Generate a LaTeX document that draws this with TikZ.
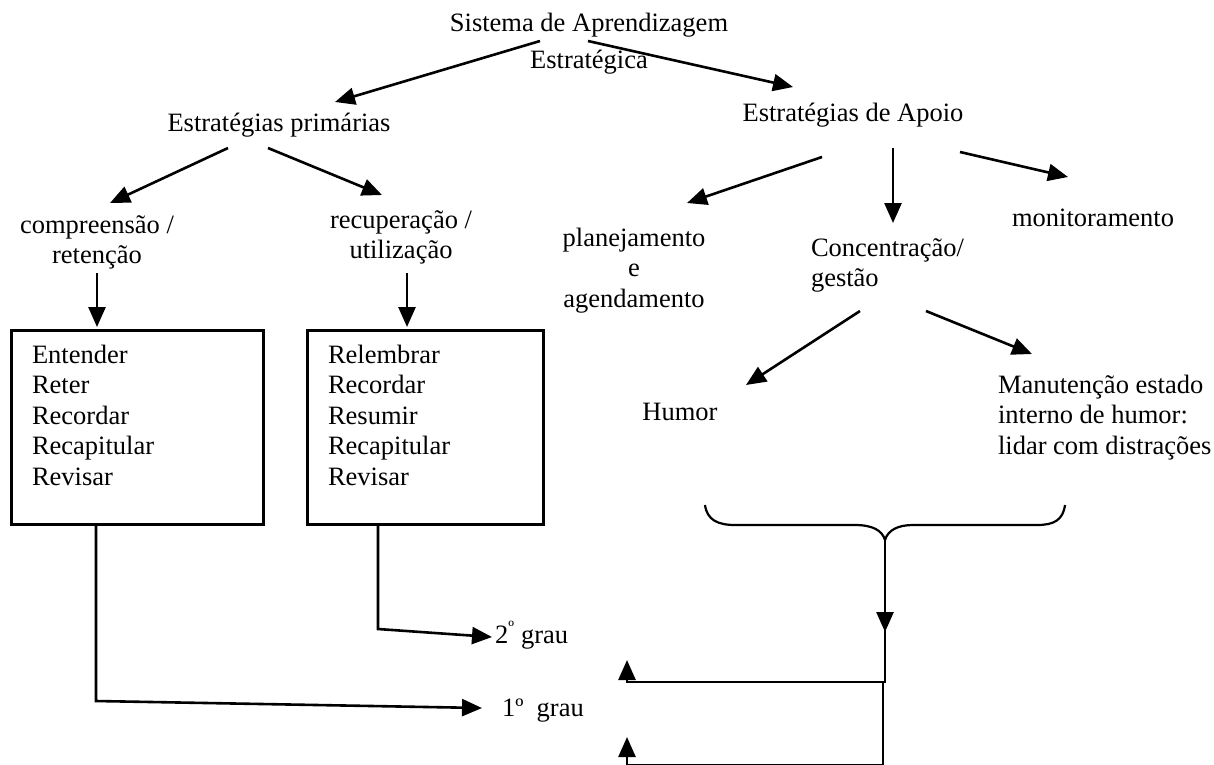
\documentclass[tikz,border=0pt]{standalone}
\usepackage{fontspec}
\setmainfont{Liberation Serif}
\usetikzlibrary{arrows.meta}
\newcommand{\ts}{\rule{0pt}{20pt}}
\begin{document}
\begin{tikzpicture}[x=1pt,y=-1pt,
  txt/.style={font=\fontsize{26.5}{30.5}\selectfont, inner sep=0pt, outer sep=0pt},
  arr/.style={line width=2.6pt, -{Triangle[length=20pt,width=17pt]}},
  ln/.style={line width=2.6pt},
  boxst/.style={draw, line width=2.6pt, inner sep=0pt, anchor=north west},
  bracest/.style={line width=2.2pt}]
\useasboundingbox (0,0) rectangle (1214,764);

% texts
\node[txt, anchor=base] (t1) at (589,31) {Sistema de Aprendizagem};
\node[txt, anchor=base] (t2) at (589,68) {Estratégica};
\node[txt, anchor=base] (prim) at (279,131) {Estratégias primárias};
\node[txt, anchor=base] (apoio) at (853,121) {Estratégias de Apoio};
\node[txt, anchor=north, align=center] (comp) at (97,213) {\ts compreensão /\\retenção};
\node[txt, anchor=north, align=center] (recu) at (401,208) {\ts recuperação /\\utilização};
\node[txt, anchor=north, align=center] (plan) at (634,226) {\ts planejamento\\e\\agendamento};
\node[txt, anchor=north west, align=left] (conc) at (811,236) {\ts Concentração/\\gestão};
\node[txt, anchor=base] (mon) at (1093,226) {monitoramento};
\node[txt, anchor=base] (hum) at (680,420) {Humor};
\node[txt, anchor=north west, align=left] (man) at (998,373) {\ts Manutenção estado\\interno de humor:\\lidar com distrações};

% boxes
\node[boxst, minimum width=252, minimum height=194] (b1) at (10,329) {};
\node[boxst, minimum width=236, minimum height=194] (b2) at (306,329) {};
\node[txt, anchor=north west, align=left] (b1t) at (32,343) {\ts Entender\\Reter\\Recordar\\Recapitular\\Revisar};
\node[txt, anchor=north west, align=left] (b2t) at (328,343) {\ts Relembrar\\Recordar\\Resumir\\Recapitular\\Revisar};

% grades
\node[txt, anchor=base west] (g2) at (495,643) {2\textsuperscript{º} grau};
\node[txt, anchor=base west] (g1) at (502,716) {1º\ \ grau};

% connector points
\coordinate (a1s) at (540,41); \coordinate (a1e) at (335,102);
\coordinate (a2s) at (588,41); \coordinate (a2e) at (793,87);
\coordinate (p1s) at (228,148); \coordinate (p1e) at (110,203);
\coordinate (p2s) at (268,148); \coordinate (p2e) at (382,195);
\coordinate (c1s) at (97,273); \coordinate (c1e) at (97,327);
\coordinate (r1s) at (407,273); \coordinate (r1e) at (407,327);
\coordinate (s1s) at (822,157); \coordinate (s1e) at (687,203);
\coordinate (s2s) at (893,148); \coordinate (s2e) at (893,223);
\coordinate (s3s) at (960,152); \coordinate (s3e) at (1068,177);
\coordinate (k1s) at (860,311); \coordinate (k1e) at (746,385);
\coordinate (k2s) at (926,311); \coordinate (k2e) at (1032,354);
\coordinate (q1) at (96,701); \coordinate (q1e) at (482,708);
\coordinate (q2) at (378,629); \coordinate (q2e) at (492,637);
\coordinate (bt) at (885,540);
\coordinate (m1) at (885,682); \coordinate (u1) at (627,682); \coordinate (u1e) at (627,660);
\coordinate (m2) at (883,765); \coordinate (u2) at (627,765); \coordinate (u2e) at (627,737);

% arrows
\draw[arr] (a1s) -- (a1e);
\draw[arr] (a2s) -- (a2e);
\draw[arr] (p1s) -- (p1e);
\draw[arr] (p2s) -- (p2e);
\draw[arr] (c1s) -- (c1e);
\draw[arr] (r1s) -- (r1e);
\draw[arr] (s1s) -- (s1e);
\draw[arr] (s2s) -- (s2e);
\draw[arr] (s3s) -- (s3e);
\draw[arr] (k1s) -- (k1e);
\draw[arr] (k2s) -- (k2e);
\draw[arr] (b1.south -| q1) -- (q1) -- (q1e);
\draw[arr] (b2.south -| q2) -- (q2) -- (q2e);

% brace
\draw[bracest] (705,505) .. controls (707,520) and (718,525) .. (735,525) -- (855,525)
  .. controls (872,525) and (882,530) .. (bt)
  .. controls (888,530) and (898,525) .. (913,525) -- (1037,525)
  .. controls (1054,525) and (1063,520) .. (1065,505);

\draw[arr] (bt) -- (m1) -- (u1) -- (u1e);
\draw[arr] (885,600) -- (885,632);
\draw[arr] (m1 -| m2) -- (m2) -- (u2) -- (u2e);
\end{tikzpicture}
\end{document}
